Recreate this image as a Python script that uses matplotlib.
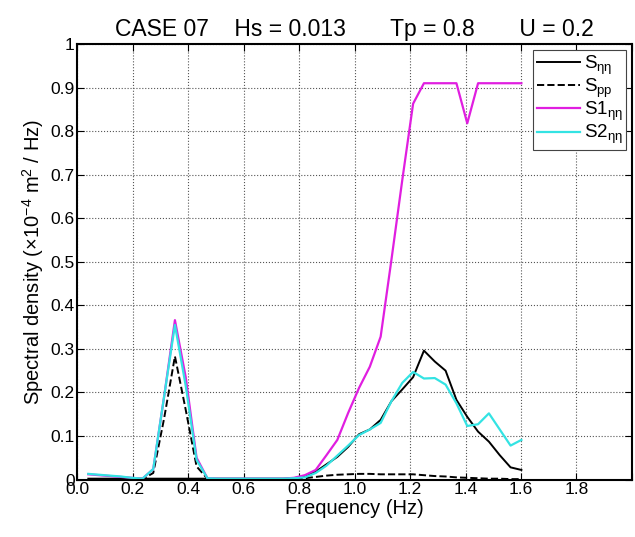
import numpy as np
import matplotlib
matplotlib.use("Agg")
import matplotlib.pyplot as plt

# frequency bins (Hz), df = 0.0390625
freq = [0.0391, 0.0781, 0.1172, 0.1563, 0.1953, 0.2344, 0.2734, 0.3125, 0.3516, 0.3906,
        0.4297, 0.4688, 0.5078, 0.5469, 0.5859, 0.6250, 0.6641, 0.7031, 0.7422, 0.7813,
        0.8203, 0.8594, 0.8984, 0.9375, 0.9766, 1.0156, 1.0547, 1.0938, 1.1328, 1.1719,
        1.2109, 1.2500, 1.2891, 1.3281, 1.3672, 1.4063, 1.4453, 1.4844, 1.5234, 1.5625,
        1.6016]

s_eta = [0.002, 0.002, 0.002, 0.002, 0.002, 0.002, 0.002, 0.002, 0.002, 0.002,
         0.002, 0.002, 0.002, 0.002, 0.002, 0.002, 0.002, 0.002, 0.002, 0.003,
         0.008, 0.018, 0.035, 0.052, 0.075, 0.104, 0.115, 0.137, 0.180, 0.207,
         0.235, 0.296, 0.271, 0.250, 0.183, 0.144, 0.110, 0.087, 0.056, 0.028,
         0.022]

s_pp = [0.001, 0.001, 0.001, 0.001, 0.001, 0.001, 0.015, 0.140, 0.283, 0.160,
        0.030, 0.002, 0.001, 0.001, 0.001, 0.001, 0.001, 0.001, 0.001, 0.002,
        0.003, 0.006, 0.009, 0.011, 0.012, 0.013, 0.013, 0.012, 0.012, 0.012,
        0.012, 0.010, 0.008, 0.007, 0.005, 0.004, 0.003, 0.002, 0.002, 0.001,
        0.001]

s1_eta = [0.012, 0.010, 0.008, 0.006, 0.004, 0.002, 0.024, 0.190, 0.366, 0.235,
          0.050, 0.003, 0.002, 0.002, 0.002, 0.002, 0.002, 0.002, 0.002, 0.004,
          0.010, 0.022, 0.056, 0.091, 0.153, 0.210, 0.259, 0.328, 0.505, 0.688,
          0.863, 0.910, 0.910, 0.910, 0.910, 0.818, 0.910, 0.910, 0.910, 0.910,
          0.910]

s2_eta = [0.013, 0.011, 0.009, 0.007, 0.004, 0.002, 0.024, 0.190, 0.355, 0.215,
          0.045, 0.003, 0.002, 0.002, 0.002, 0.002, 0.002, 0.002, 0.002, 0.003,
          0.005, 0.015, 0.032, 0.055, 0.078, 0.102, 0.115, 0.130, 0.180, 0.222,
          0.247, 0.232, 0.233, 0.218, 0.175, 0.123, 0.127, 0.152, 0.115, 0.078,
          0.091]

plt.rcParams['font.family'] = ['Liberation Sans', 'DejaVu Sans']
plt.rcParams['mathtext.fontset'] = 'custom'
plt.rcParams['mathtext.rm'] = 'Liberation Sans'
plt.rcParams['mathtext.it'] = 'Liberation Sans'

fig = plt.figure(figsize=(6.35, 5.37), dpi=100)
ax = fig.add_axes([0.122, 0.107, 0.873, 0.811])

ax.plot(freq, s_eta, color='black', lw=1.4, label=r'S$_{\eta\eta}$')
ax.plot(freq, s_pp, color='black', lw=1.4, ls='--', label=r'S$_{pp}$')
ax.plot(freq, s1_eta, color='#e01ee0', lw=1.6, label=r'S1$_{\eta\eta}$')
ax.plot(freq, s2_eta, color='#33e3e3', lw=1.6, label=r'S2$_{\eta\eta}$')

ax.set_xlim(0, 2)
ax.set_ylim(0, 1)
ax.set_xticks(np.arange(0, 2.01, 0.2))
ax.set_xticklabels(['%.1f' % v for v in np.arange(0, 1.81, 0.2)] + [''])
ax.set_yticks(np.arange(0, 1.01, 0.1))
ax.set_yticklabels(['0'] + ['%.1f' % v for v in np.arange(0.1, 0.91, 0.1)] + ['1'])
ax.tick_params(direction='in', labelsize=12.5, length=5, top=True, right=True, pad=2)
ax.grid(True, ls=':', color='#555555', lw=0.8)
for sp in ax.spines.values():
    sp.set_linewidth(1.5)

ax.set_xlabel('Frequency (Hz)', fontsize=14.5, labelpad=1)
ax.set_ylabel(r'Spectral density ($\times$10$^{-4}$ m$^2$ / Hz)', fontsize=14.5, labelpad=3)
ax.set_title('CASE 07    Hs = 0.013       Tp = 0.8       U = 0.2', fontsize=16.5, pad=6)

leg = ax.legend(loc='upper right', fontsize=13.5, fancybox=False, framealpha=1,
                edgecolor='#444444', handlelength=2.3, borderaxespad=0.3,
                labelspacing=0.0, borderpad=0.2, handletextpad=0.2)
leg.get_frame().set_linewidth(0.8)

plt.savefig('out.png', dpi=100)
